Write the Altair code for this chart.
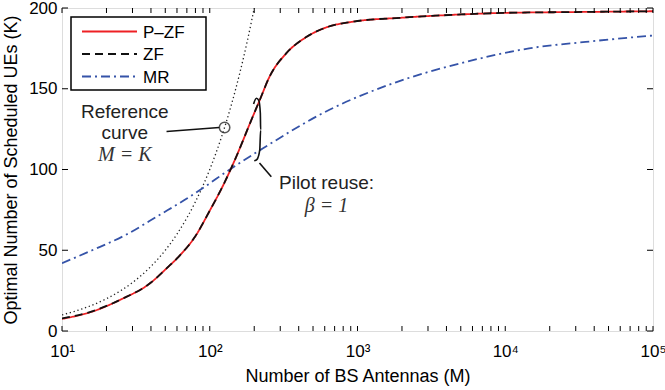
import altair as alt
import pandas as pd

# ---------------- data ----------------
pzf_m = [10, 16, 25, 40, 50, 63, 79, 100, 126, 148, 196, 218, 254, 330, 450, 615, 929, 2000, 5000, 10000, 30000, 100000]
pzf_k = [7.5, 12, 19.5, 30, 38, 47, 58, 74.5, 92, 106, 133, 143, 157.5, 172, 182, 188, 191.5, 194, 196, 197, 197.5, 198]
zf_m = [10, 16, 25, 40, 50, 63, 79, 100, 126, 148, 196, 218, 254, 330, 450, 615, 929, 2000, 5000, 10000, 30000, 100000]
zf_k = [7.8, 12.2, 19.5, 30, 38, 47, 58, 74.5, 92, 106, 133, 143, 157.5, 172, 182, 188, 191.5, 194, 196, 197, 197.5, 198]
mr_m = [10, 16, 27, 46, 70, 95, 129, 219, 646, 1820, 5100, 14500, 35000, 100000]
mr_k = [42, 50, 59.5, 72, 82, 90, 98.5, 112, 137, 154, 166, 175, 179, 183]
ref_m = [10, 12, 15, 20, 25, 30, 40, 50, 60, 70, 80, 90, 100, 120, 140, 160, 180, 200]
ref_k = [10, 12, 15, 20, 25, 30, 40, 50, 60, 70, 80, 90, 100, 120, 140, 160, 180, 200]

series_names = ["P\u2013ZF", "ZF", "MR"]
series_colors = ["#ee2024", "#111111", "#3553a8"]
series_dash = [[1, 0], [8, 5], [9, 4, 2, 4]]

x_major = [10, 100, 1000, 10000, 100000]
x_labels = ["10\u00b9", "10\u00b2", "10\u00b3", "10\u2074", "10\u2075"]
x_minor_mult = [1, 2, 3, 4, 5, 6, 7, 8, 9]
y_major = [0, 50, 100, 150, 200]

# annotation: reference curve
ref_text = ["Reference", "curve"]
ref_text_m = [26.6, 26.6]
ref_text_k = [135.6, 122.6]
ref_math = ["M = K"]
ref_math_m = [26.6]
ref_math_k = [109]
ref_circle_m = [126]
ref_circle_k = [126]
ref_pointer_m = [51, 116]
ref_pointer_k = [123.5, 126]

# annotation: pilot reuse
brace_m = [198, 207, 215, 220, 221, 218, 209, 200]
brace_k = [140.6, 144.1, 142.6, 134.8, 124.5, 112.1, 106.3, 105.4]
pilot_pointer_m = [217, 261]
pilot_pointer_k = [104, 95.5]
pilot_text = ["Pilot reuse:"]
pilot_text_m = [617]
pilot_text_k = [91.6]
pilot_math = ["\u03b2 = 1"]
pilot_math_m = [617]
pilot_math_k = [77.4]

# ---------------- build tables ----------------
def curve(ms, ks, name):
    return pd.DataFrame({"M": ms, "K": ks, "series": name, "i": range(len(ms))})

df_pzf = curve(pzf_m, pzf_k, series_names[0])
df_zf = curve(zf_m, zf_k, series_names[1])
df_mr = curve(mr_m, mr_k, series_names[2])
df_ref = pd.DataFrame({"M": ref_m, "K": ref_k, "i": range(len(ref_m))})

x_ticks = [d * m for d in [10, 100, 1000, 10000] for m in x_minor_mult] + [100000]
df_xt = pd.DataFrame({"M": x_ticks})
df_yt = pd.DataFrame({"K": y_major})

FONT = "Liberation Sans"
W, H = 591, 323

xscale = alt.Scale(type="log", domain=[10, 100000], nice=False)
yscale = alt.Scale(domain=[0, 200], nice=False, zero=False)

label_expr = " : ".join(
    [f"datum.value == {v} ? '{t}'" for v, t in zip(x_major, x_labels)]
) + " : ''"

x_axis = alt.Axis(values=x_major, labelExpr=label_expr, title="Number of BS Antennas (M)",
                  grid=False, ticks=False, domain=False, labelFontSize=17, labelFont=FONT,
                  labelPadding=12, titleFont=FONT, titleFontSize=18, titleFontWeight="normal",
                  titlePadding=8, labelColor="black", titleColor="black", labelFlush=False)
y_axis = alt.Axis(values=y_major, title="Optimal Number of Scheduled UEs (K)", grid=False,
                  ticks=False, domain=False, labelFontSize=17, labelFont=FONT, labelPadding=5,
                  titleFont=FONT, titleFontSize=18, titleFontWeight="normal", titlePadding=8,
                  labelColor="black", titleColor="black", labelFlush=False)

X = alt.X("M:Q", scale=xscale, axis=x_axis)
Y = alt.Y("K:Q", scale=yscale, axis=y_axis)

color = alt.Color("series:N", scale=alt.Scale(domain=series_names, range=series_colors), legend=None)
dash = alt.StrokeDash("series:N", scale=alt.Scale(domain=series_names, range=series_dash), legend=None)

def series_layer(df):
    return alt.Chart(df).mark_line(strokeWidth=1.8, clip=True, interpolate="monotone").encode(
        x=X, y=Y, color=color, strokeDash=dash, order="i:Q")

ref_line = alt.Chart(df_ref).mark_line(color="#222", strokeWidth=1.3, strokeDash=[1.3, 2.7],
                                       clip=True, interpolate="monotone").encode(
    x=X, y=Y, order="i:Q")

# ticks (inward, matlab style)
xt_bottom = alt.Chart(df_xt).mark_rule(color="black", strokeWidth=1).encode(
    x=alt.X("M:Q", scale=xscale), y=alt.value(H), y2=alt.value(H - 5))
xt_top = alt.Chart(df_xt).mark_rule(color="black", strokeWidth=1).encode(
    x=alt.X("M:Q", scale=xscale), y=alt.value(0), y2=alt.value(5))
yt_left = alt.Chart(df_yt).mark_rule(color="black", strokeWidth=1).encode(
    y=alt.Y("K:Q", scale=yscale), x=alt.value(0), x2=alt.value(6))
yt_right = alt.Chart(df_yt).mark_rule(color="black", strokeWidth=1).encode(
    y=alt.Y("K:Q", scale=yscale), x=alt.value(W), x2=alt.value(W - 6))

# annotations
df_rt = pd.DataFrame({"M": ref_text_m, "K": ref_text_k, "t": ref_text})
df_rm = pd.DataFrame({"M": ref_math_m, "K": ref_math_k, "t": ref_math})
df_rc = pd.DataFrame({"M": ref_circle_m, "K": ref_circle_k})
df_rp = pd.DataFrame({"M": ref_pointer_m, "K": ref_pointer_k, "i": range(2)})
df_br = pd.DataFrame({"M": brace_m, "K": brace_k, "i": range(len(brace_m))})
df_pp = pd.DataFrame({"M": pilot_pointer_m, "K": pilot_pointer_k, "i": range(2)})
df_pt = pd.DataFrame({"M": pilot_text_m, "K": pilot_text_k, "t": pilot_text})
df_pm = pd.DataFrame({"M": pilot_math_m, "K": pilot_math_k, "t": pilot_math})

txt_kw = dict(font=FONT, fontSize=19, color="#222", align="center", baseline="middle")
math_kw = dict(font="Liberation Serif", fontSize=20, fontStyle="italic", color="#333",
               align="center", baseline="middle")

ann = [
    alt.Chart(df_rt).mark_text(**txt_kw).encode(x=X, y=Y, text="t:N"),
    alt.Chart(df_rm).mark_text(**math_kw).encode(x=X, y=Y, text="t:N"),
    alt.Chart(df_rp).mark_line(color="#111", strokeWidth=1.6).encode(x=X, y=Y, order="i:Q"),
    alt.Chart(df_rc).mark_point(shape="circle", size=110, color="#111", strokeWidth=1.5, filled=False).encode(x=X, y=Y),
    alt.Chart(df_br).mark_line(color="#111", strokeWidth=1.6, interpolate="monotone").encode(x=X, y=Y, order="i:Q"),
    alt.Chart(df_pp).mark_line(color="#111", strokeWidth=1.6).encode(x=X, y=Y, order="i:Q"),
    alt.Chart(df_pt).mark_text(**txt_kw).encode(x=X, y=Y, text="t:N"),
    alt.Chart(df_pm).mark_text(**math_kw).encode(x=X, y=Y, text="t:N"),
]

# legend box drawn by hand (matlab style: long line samples, tight rows)
leg_box = alt.Chart(pd.DataFrame({"a": [0]})).mark_rect(
    fill="white", stroke="black", strokeWidth=1.5).encode(
    x=alt.value(9), x2=alt.value(144), y=alt.value(9), y2=alt.value(82))
leg_layers = [leg_box]
for idx, (nm, col, dsh) in enumerate(zip(series_names, series_colors, series_dash)):
    row_y = 23.5 + idx * 22.5
    one = pd.DataFrame({"series": [nm]})
    leg_layers.append(
        alt.Chart(one).mark_rule(color=col, strokeWidth=1.8, strokeDash=dsh).encode(
            x=alt.value(20), x2=alt.value(75), y=alt.value(row_y)))
    leg_layers.append(
        alt.Chart(one).mark_text(font=FONT, fontSize=17, color="black", align="left",
                                 baseline="middle").encode(
            x=alt.value(81), y=alt.value(row_y + 1), text="series:N"))

chart = alt.layer(
    ref_line,
    series_layer(df_mr),
    series_layer(df_pzf),
    series_layer(df_zf),
    *ann,
    xt_bottom, xt_top, yt_left, yt_right,
    *leg_layers,
).properties(
    width=W, height=H,
    autosize=alt.AutoSizeParams(type="none"),
    padding={"left": 62, "top": 8, "right": 12, "bottom": 59},
).configure_view(stroke="#111", strokeWidth=1.5).configure(background="white")

chart.save("out.html", embed_options={"renderer": "svg", "actions": False})
